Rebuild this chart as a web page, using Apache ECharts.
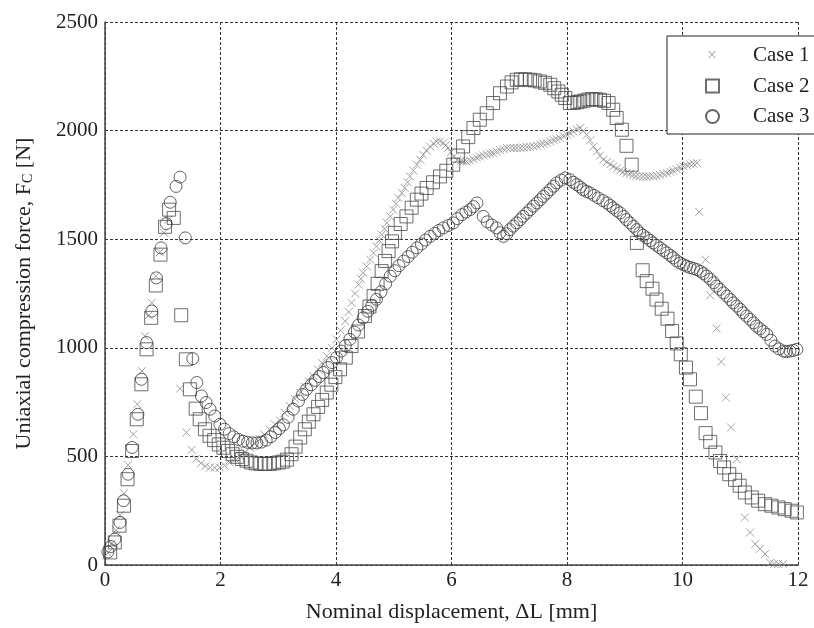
<!DOCTYPE html>
<html>
<head>
<meta charset="utf-8">
<script src="https://cdn.jsdelivr.net/npm/echarts@6/dist/echarts.min.js"></script>
<style>
  html, body { margin: 0; padding: 0; background: #fff; }
  #chart { width: 814px; height: 628px; }
</style>
</head>
<body>
<div id="chart"></div>
<script>
// nominal displacement [mm], force [N]
var case1 = [
  [0.05,55],[0.12,100],[0.19,160],[0.26,230],[0.33,330],[0.40,460],[0.49,602],[0.56,740],[0.64,893],[0.69,1054],
  [0.76,1150],[0.81,1207],[0.88,1330],[0.95,1440],[1.02,1530],[1.10,1590],[1.30,812],[1.41,610],[1.50,530],[1.58,490],
  [1.66,468],[1.74,455],[1.82,449],[1.90,448],[1.99,449],[2.07,458],[2.16,472],[2.25,488],[2.34,502],[2.42,520],
  [2.51,540],[2.59,558],[2.68,579],[2.76,600],[2.85,625],[2.94,648],[3.03,665],[3.11,700],[3.20,732],[3.29,765],
  [3.38,794],[3.46,820],[3.53,845],[3.61,870],[3.69,900],[3.76,930],[3.84,962],[3.93,1000],[4.01,1039],[4.08,1080],
  [4.16,1123],[4.22,1165],[4.27,1207],[4.33,1250],[4.39,1291],[4.43,1318],[4.47,1345],[4.53,1375],[4.59,1406],[4.65,1437],
  [4.70,1467],[4.75,1494],[4.79,1521],[4.84,1548],[4.88,1575],[4.94,1605],[4.99,1636],[5.04,1663],[5.08,1690],[5.14,1713],
  [5.19,1736],[5.24,1762],[5.28,1789],[5.34,1816],[5.40,1843],[5.46,1866],[5.51,1889],[5.57,1908],[5.63,1927],[5.69,1940],
  [5.74,1950],[5.80,1950],[5.86,1943],[5.90,1932],[5.94,1920],[5.99,1900],[6.04,1880],[6.10,1865],[6.16,1860],[6.21,1858],
  [6.26,1858],[6.32,1862],[6.38,1868],[6.44,1875],[6.49,1881],[6.55,1886],[6.61,1890],[6.67,1894],[6.72,1897],[6.78,1903],
  [6.84,1910],[6.90,1915],[6.96,1920],[7.02,1920],[7.08,1919],[7.13,1920],[7.19,1920],[7.25,1922],[7.31,1924],[7.36,1925],
  [7.42,1927],[7.48,1931],[7.54,1936],[7.59,1940],[7.65,1943],[7.71,1950],[7.77,1956],[7.82,1961],[7.88,1966],[7.94,1974],
  [8.00,1982],[8.05,1989],[8.11,1997],[8.17,2005],[8.23,2012],[8.28,1998],[8.34,1981],[8.40,1955],[8.46,1927],[8.52,1905],
  [8.57,1885],[8.63,1866],[8.69,1855],[8.75,1845],[8.80,1835],[8.86,1826],[8.92,1816],[8.97,1810],[9.03,1805],[9.09,1800],
  [9.15,1795],[9.20,1791],[9.26,1789],[9.32,1788],[9.38,1788],[9.43,1789],[9.49,1789],[9.55,1792],[9.61,1796],[9.67,1800],
  [9.73,1805],[9.79,1810],[9.84,1815],[9.90,1822],[9.96,1828],[10.02,1835],[10.08,1840],[10.13,1845],[10.19,1848],[10.25,1851],
  [10.29,1626],[10.40,1406],[10.48,1242],[10.59,1089],[10.67,936],[10.75,771],[10.84,633],[10.94,487],[11.08,219],[11.17,150],
  [11.26,97],[11.34,74],[11.43,51],[11.52,10],[11.59,5],[11.66,5],[11.74,5]
];

var case2 = [
  [0.09,58],[0.17,104],[0.25,181],[0.33,273],[0.39,395],[0.47,525],[0.55,671],[0.63,832],[0.72,993],[0.80,1138],
  [0.88,1287],[0.96,1429],[1.04,1557],[1.11,1636],[1.19,1598],[1.32,1150],[1.40,947],[1.47,809],[1.57,720],[1.64,671],
  [1.73,625],[1.81,595],[1.89,575],[1.97,555],[2.05,540],[2.13,525],[2.21,510],[2.29,498],[2.37,488],[2.45,480],
  [2.53,472],[2.61,468],[2.69,466],[2.77,465],[2.85,466],[2.93,468],[3.01,472],[3.08,476],[3.15,485],[3.23,510],
  [3.30,545],[3.38,587],[3.46,625],[3.53,660],[3.61,694],[3.69,728],[3.76,760],[3.84,794],[3.92,830],[3.99,865],
  [4.07,901],[4.17,955],[4.27,1008],[4.38,1075],[4.50,1146],[4.58,1190],[4.65,1238],[4.72,1295],[4.79,1353],[4.85,1400],
  [4.91,1445],[4.97,1490],[5.02,1529],[5.12,1570],[5.22,1605],[5.31,1645],[5.40,1682],[5.48,1710],[5.57,1736],[5.68,1762],
  [5.80,1789],[5.91,1815],[6.03,1843],[6.11,1885],[6.20,1927],[6.29,1970],[6.38,2012],[6.49,2050],[6.61,2080],[6.72,2127],
  [6.84,2172],[6.96,2203],[7.04,2222],[7.13,2234],[7.20,2236],[7.28,2236],[7.36,2234],[7.44,2231],[7.53,2226],[7.62,2220],
  [7.71,2211],[7.78,2195],[7.85,2180],[7.91,2165],[7.97,2150],[8.05,2127],[8.12,2128],[8.18,2131],[8.23,2134],[8.30,2138],
  [8.37,2143],[8.44,2145],[8.50,2144],[8.57,2142],[8.64,2137],[8.72,2127],[8.80,2096],[8.86,2058],[8.95,2004],[9.03,1930],
  [9.12,1843],[9.21,1483],[9.31,1357],[9.38,1307],[9.48,1272],[9.55,1222],[9.64,1180],[9.74,1134],[9.82,1077],[9.90,1020],
  [9.97,970],[10.06,909],[10.13,855],[10.23,775],[10.32,699],[10.40,607],[10.48,567],[10.57,518],[10.65,479],[10.72,449],
  [10.81,418],[10.91,392],[10.99,365],[11.08,334],[11.20,311],[11.31,296],[11.43,280],[11.54,273],[11.66,265],[11.77,257],
  [11.89,250],[11.98,242]
];

var case3 = [
  [0.05,60],[0.10,85],[0.17,119],[0.26,196],[0.32,296],[0.40,418],[0.47,541],[0.57,694],[0.63,855],[0.72,1024],
  [0.81,1169],[0.89,1322],[0.97,1460],[1.06,1572],[1.13,1670],[1.23,1743],[1.30,1786],[1.39,1506],[1.52,950],[1.59,840],
  [1.67,778],[1.75,748],[1.82,717],[1.90,686],[1.99,648],[2.07,625],[2.15,605],[2.23,590],[2.31,578],[2.39,570],
  [2.47,565],[2.55,562],[2.63,562],[2.71,566],[2.79,575],[2.87,590],[2.95,610],[3.02,628],[3.09,645],[3.17,680],
  [3.26,717],[3.35,755],[3.42,785],[3.49,809],[3.57,830],[3.64,850],[3.71,868],[3.78,886],[3.86,910],[3.93,932],
  [4.01,955],[4.09,985],[4.16,1010],[4.24,1039],[4.32,1072],[4.39,1105],[4.47,1138],[4.55,1168],[4.62,1195],[4.70,1223],
  [4.78,1258],[4.86,1295],[4.94,1330],[5.02,1355],[5.09,1378],[5.17,1399],[5.25,1420],[5.32,1440],[5.40,1460],[5.48,1478],
  [5.55,1496],[5.63,1513],[5.71,1527],[5.78,1540],[5.86,1552],[5.95,1563],[6.03,1575],[6.10,1595],[6.18,1613],[6.25,1625],
  [6.32,1636],[6.38,1650],[6.44,1667],[6.55,1605],[6.62,1580],[6.70,1565],[6.78,1552],[6.84,1530],[6.90,1513],[6.96,1525],
  [7.01,1544],[7.07,1560],[7.13,1575],[7.19,1590],[7.24,1605],[7.30,1620],[7.36,1636],[7.42,1652],[7.48,1667],[7.54,1682],
  [7.59,1697],[7.65,1712],[7.71,1728],[7.77,1744],[7.82,1759],[7.90,1772],[7.97,1782],[8.05,1774],[8.11,1762],[8.17,1751],
  [8.23,1740],[8.28,1728],[8.34,1720],[8.40,1713],[8.47,1702],[8.54,1690],[8.62,1678],[8.69,1667],[8.75,1655],[8.80,1644],
  [8.86,1632],[8.92,1621],[8.98,1605],[9.03,1590],[9.09,1575],[9.15,1559],[9.21,1544],[9.26,1529],[9.32,1518],[9.38,1506],
  [9.44,1494],[9.49,1483],[9.55,1472],[9.61,1460],[9.67,1448],[9.73,1437],[9.79,1425],[9.84,1414],[9.90,1400],[9.96,1390],
  [10.02,1382],[10.07,1376],[10.13,1370],[10.19,1365],[10.25,1360],[10.31,1352],[10.36,1342],[10.42,1330],[10.48,1316],[10.54,1300],
  [10.59,1284],[10.65,1269],[10.71,1253],[10.77,1238],[10.83,1222],[10.88,1207],[10.94,1192],[11.00,1177],[11.05,1161],[11.11,1146],
  [11.17,1131],[11.23,1115],[11.28,1100],[11.34,1088],[11.40,1075],[11.46,1062],[11.53,1035],[11.60,1008],[11.67,995],[11.75,985],
  [11.80,982],[11.86,985],[11.92,988],[11.98,993]
];

var seriesNames = ['Case 1', 'Case 2', 'Case 3'];

var serif = 'Liberation Serif';
var crossPath = 'path://M0,0L10,10M10,0L0,10';

var chart = echarts.init(document.getElementById('chart'));

var gridLine = { show: true, lineStyle: { color: '#333', type: [3, 2], width: 1 } };

chart.setOption({
  backgroundColor: '#fff',
  animation: false,
  grid: { left: 105, right: 16, top: 22, bottom: 62 },
  legend: {
    orient: 'vertical',
    left: 667,
    top: 36,
    data: [
      { name: seriesNames[0], icon: 'none' },
      { name: seriesNames[1] },
      { name: seriesNames[2] }
    ],
    backgroundColor: '#fff',
    borderColor: '#222',
    borderWidth: 1,
    padding: [9, 40, 7, 38],
    itemWidth: 13,
    itemHeight: 13,
    itemGap: 9.5,
    textStyle: { fontFamily: serif, fontSize: 21, color: '#222', lineHeight: 21, padding: [0, 0, 0, 29] }
  },
  // small legend cross for Case 1, drawn over the legend box
  graphic: [
    { type: 'line', z: 100, zlevel: 1, shape: { x1: 708.5, y1: 51, x2: 715.5, y2: 58 }, style: { stroke: '#8c8c8c', lineWidth: 1 } },
    { type: 'line', z: 100, zlevel: 1, shape: { x1: 715.5, y1: 51, x2: 708.5, y2: 58 }, style: { stroke: '#8c8c8c', lineWidth: 1 } }
  ],
  xAxis: {
    type: 'value',
    min: 0, max: 12, interval: 2,
    name: 'Nominal displacement, \u0394L [mm]',
    nameLocation: 'middle',
    nameGap: 36,
    nameTextStyle: { fontFamily: serif, fontSize: 22, color: '#222' },
    axisLine: { lineStyle: { color: '#444', width: 1.5 } },
    axisTick: { show: false },
    axisLabel: { fontFamily: serif, fontSize: 21, color: '#222', margin: 5 },
    splitLine: gridLine
  },
  yAxis: {
    type: 'value',
    min: 0, max: 2500, interval: 500,
    name: 'Uniaxial compression force, F{sub|C} [N]',
    nameLocation: 'middle',
    nameGap: 70,
    nameTextStyle: {
      fontFamily: serif, fontSize: 22, color: '#222',
      rich: { sub: { fontFamily: serif, fontSize: 14, color: '#222', verticalAlign: 'bottom', lineHeight: 12 } }
    },
    axisLine: { show: true, lineStyle: { color: '#444', width: 1.5 } },
    axisTick: { show: false },
    axisLabel: {
      fontFamily: serif, fontSize: 21, color: '#222', margin: 7,
      formatter: function (v) { return String(v); }
    },
    splitLine: gridLine
  },
  series: [
    {
      name: seriesNames[0], type: 'scatter', data: case1,
      symbol: crossPath, symbolSize: 8,
      itemStyle: { color: 'rgba(0,0,0,0)', borderColor: '#8c8c8c', borderWidth: 1 }
    },
    {
      name: seriesNames[1], type: 'scatter', data: case2,
      symbol: 'rect', symbolSize: 13,
      itemStyle: { color: 'rgba(0,0,0,0)', borderColor: '#4a4a4a', borderWidth: 1 }
    },
    {
      name: seriesNames[2], type: 'scatter', data: case3,
      symbol: 'circle', symbolSize: 12,
      itemStyle: { color: 'rgba(0,0,0,0)', borderColor: '#3c3c3c', borderWidth: 1 }
    }
  ]
});
</script>
</body>
</html>
